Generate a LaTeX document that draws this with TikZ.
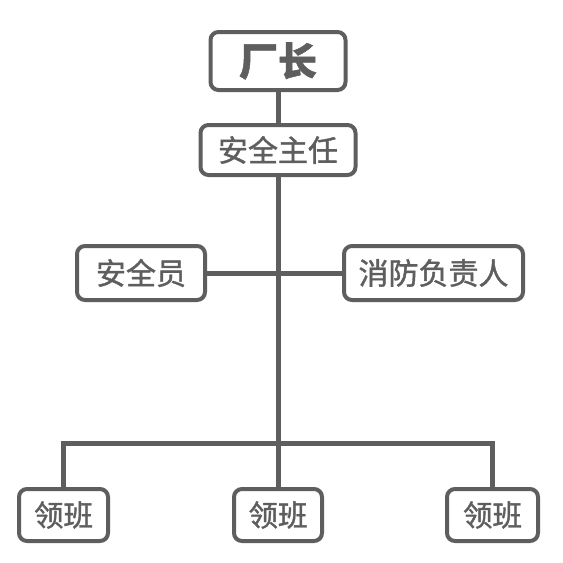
\documentclass[tikz,border=0pt]{standalone}
\usepackage{fontspec}
\newfontfamily\cjk[FakeBold=1.3]{Noto Sans CJK SC}
\definecolor{linegray}{HTML}{5E5E5E}
\begin{document}
\begin{tikzpicture}[x=1pt,y=-1pt,
  box/.style={draw=linegray, line width=4pt, rounded corners=8pt, fill=white,
    text=linegray, inner sep=0pt, font=\cjk\fontsize{30}{30}\selectfont},
  leadbox/.style={box, minimum height=52pt, font=\cjk\fontsize{29.5}{29.5}\selectfont},
  link/.style={draw=linegray, line width=5pt, line join=miter}]
  \useasboundingbox (0,0) rectangle (563,563);
  % boxes
  \node[box, minimum width=135pt, minimum height=58pt,
        font=\cjk\bfseries\fontsize{39}{39}\selectfont] (head) at (278,61) {厂长};
  \node[box, minimum width=155pt, minimum height=50pt] (chief) at (278,150) {安全主任};
  \node[box, minimum width=128pt, minimum height=54pt] (officer) at (141,273) {安全员};
  \node[box, minimum width=179pt, minimum height=54pt] (fire) at (433.5,273) {消防负责人};
  \node[leadbox, minimum width=89pt] (lead1) at (63.5,515) {领班};
  \node[leadbox, minimum width=88pt] (lead2) at (278,515) {领班};
  \node[leadbox, minimum width=91pt] (lead3) at (492.5,515) {领班};
  \coordinate (bar) at (278,443);
  % connectors
  \draw[link] (head) -- (chief);
  \draw[link] (chief) -- (lead2);
  \draw[link] (officer) -- (fire);
  \draw[link] (lead1.north) |- (bar) -| (lead3.north);
\end{tikzpicture}
\end{document}
